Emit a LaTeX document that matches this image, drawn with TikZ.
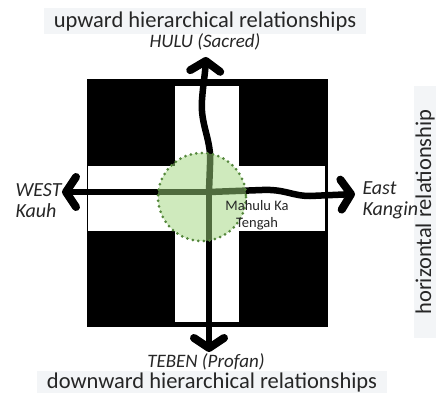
\documentclass[tikz,border=0pt]{standalone}
\usepackage{fontspec}
\setmainfont{Carlito}
\usetikzlibrary{arrows.meta}

\definecolor{corefill}{RGB}{160,215,125}
\definecolor{coreline}{RGB}{85,135,60}
\definecolor{boxgrey}{RGB}{243,245,247}

\begin{document}
\begin{tikzpicture}[x=1pt, y=-1pt,
    block/.style={fill=black},
    street/.style={fill=white},
    flow/.style={line width=6.5pt, line cap=round, line join=round,
        -{Straight Barb[length=10pt, width=30pt, line width=8pt, round]}},
    core/.style={fill=corefill, fill opacity=0.5, draw=coreline, draw opacity=1,
        line width=3pt, line cap=round, dash pattern=on 0pt off 5.6pt},
    axis_label/.style={font=\fontsize{22.5}{24}\selectfont, text=black!85, fill=boxgrey,
        inner xsep=10pt, inner ysep=1pt, minimum height=22pt},
    dir_label/.style={font=\fontsize{20}{21}\selectfont\itshape, align=left,
        text=black!85, anchor=west},
    pole_label/.style={font=\fontsize{19}{20}\selectfont\itshape, text=black!85, inner sep=1pt}
]
    \useasboundingbox (0,0) rectangle (437,394);
    % Blocks and streets
    \fill[block] (87,79) rectangle (328,327);
    \fill[street] (175,86) rectangle (239,322);
    \fill[street] (88,166) rectangle (325,231);
    % Axes
    \coordinate (cross) at (209,192);
    \coordinate (north) at (206,57);
    \coordinate (south) at (209,352);
    \coordinate (westtip) at (62,192);
    \coordinate (easttip) at (355,194);
    \draw[flow] (cross) -- (210,165) .. controls (212,140) and (200,125) .. (202,100)
        .. controls (203,85) and (205,75) .. (north);
    \draw[flow] (cross) -- (south);
    \draw[flow] (cross) -- (westtip);
    \draw[flow] (cross) -- (262,190) .. controls (285,189) and (292,196) .. (310,196) -- (easttip);
    % Centre
    \draw[core] (202,197) circle (44);
    \node[font=\fontsize{14.5}{17}\selectfont, align=center, text=black!85] (mahulu) at (257,215) {Mahulu Ka\\Tengah};
    % Labels
    \node[axis_label, minimum height=26pt] (up) at (205,21) {upward hierarchical relationships};
    \node[pole_label] (hulu) at (205,42) {HULU (Sacred)};
    \node[pole_label] (teben) at (206,362) {TEBEN (Profan)};
    \node[axis_label, minimum height=20pt] (down) at (212,382) {downward hierarchical relationships};
    \node[axis_label, rotate=90, minimum width=252pt, minimum height=20pt] (horiz) at (425,212) {horizontal relationship};
    \node[dir_label] (west) at (12,201) {WEST\\Kauh};
    \node[dir_label] (east) at (359,200) {East\\Kangin};
\end{tikzpicture}
\end{document}
